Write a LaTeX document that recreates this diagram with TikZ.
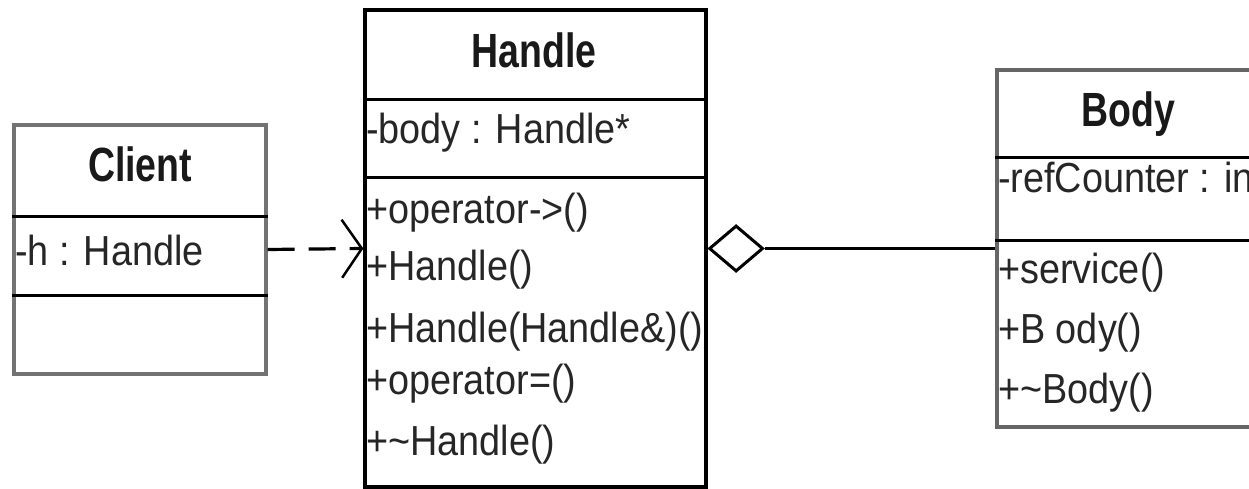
\documentclass[tikz,border=0pt]{standalone}
\usepackage{fontspec}
\setmainfont{Liberation Sans}
\newfontfamily\titlefont[FakeStretch=0.78]{Liberation Sans Bold}
\newfontfamily\memberfont[FakeStretch=0.9]{Liberation Sans}
\usetikzlibrary{arrows.meta,shapes.geometric}
\begin{document}
\begin{tikzpicture}[x=1pt,y=-1pt,
  classbox/.style={draw=#1,line width=3.2pt,fill=white,inner sep=0pt,rectangle},
  classbox/.default=black,
  sep/.style={line width=3pt,draw=black},
  ttl/.style={font=\titlefont\fontsize{48}{50}\selectfont,text=black!90,inner sep=0pt,anchor=base},
  mem/.style={font=\memberfont\fontsize{42}{44}\selectfont,text=black!85,inner sep=0pt,anchor=base west},
  conn/.style={line width=3.2pt,draw=black}]
\useasboundingbox (0,0) rectangle (1249,489);
\clip (0,0) rectangle (1249,489);
\fill[white] (0,0) rectangle (1249,489);

% Client class
\node[classbox=black!55,minimum width=252pt,minimum height=249pt] (client) at (140,249.5) {};
\draw[sep] (client.west |- 0,216) -- (client.east |- 0,216);
\draw[sep] (client.west |- 0,295) -- (client.east |- 0,295);
\node[ttl] (clientname) at (140,182) {Client};
\node[mem] (clientattr) at (15,265) {-h : Handle};

% Handle class
\node[classbox,minimum width=341pt,minimum height=477pt] (handle) at (535.5,248.5) {};
\draw[sep] (handle.west |- 0,100) -- (handle.east |- 0,100);
\draw[sep] (handle.west |- 0,178) -- (handle.east |- 0,178);
\node[ttl] (handlename) at (534,68) {Handle};
\node[mem] (handleattr) at (366,144) {-body : Handle*};
\node[mem] (hm1) at (366,223) {+operator->()};
\node[mem] (hm2) at (366,280) {+Handle()};
\node[mem] (hm3) at (366,342) {+Handle(Handle\&)()};
\node[mem] (hm4) at (366,394) {+operator=()};
\node[mem] (hm5) at (366,455) {+\char`~Handle()};

% Body class
\node[classbox=black!60,minimum width=265pt,minimum height=357pt] (body) at (1129.5,248.5) {};
\draw[sep] (body.west |- 0,158) -- (body.east |- 0,158);
\draw[sep] (body.west |- 0,240) -- (body.east |- 0,240);
\node[ttl] (bodyname) at (1128,127) {Body};
\node[mem] (bodyattr) at (998,193) {-refCounter : int};
\node[mem] (bm1) at (998,283) {+service()};
\node[mem] (bm2) at (998,343) {+B ody()};
\node[mem] (bm3) at (998,403) {+\char`~Body()};

% Dependency: Client uses Handle
\draw[conn,dash pattern=on 27pt off 14pt,-{Straight Barb[length=20pt,width=58pt,line width=2.5pt]}]
  (client.east) -- (handle.west);

% Aggregation: Handle holds Body
\node[diamond,draw,line width=3pt,fill=white,minimum width=54pt,minimum height=46pt,inner sep=0pt,anchor=west]
  (agg) at (handle.east) {};
\draw[conn] (agg.east) -- (body.west);
\end{tikzpicture}
\end{document}
